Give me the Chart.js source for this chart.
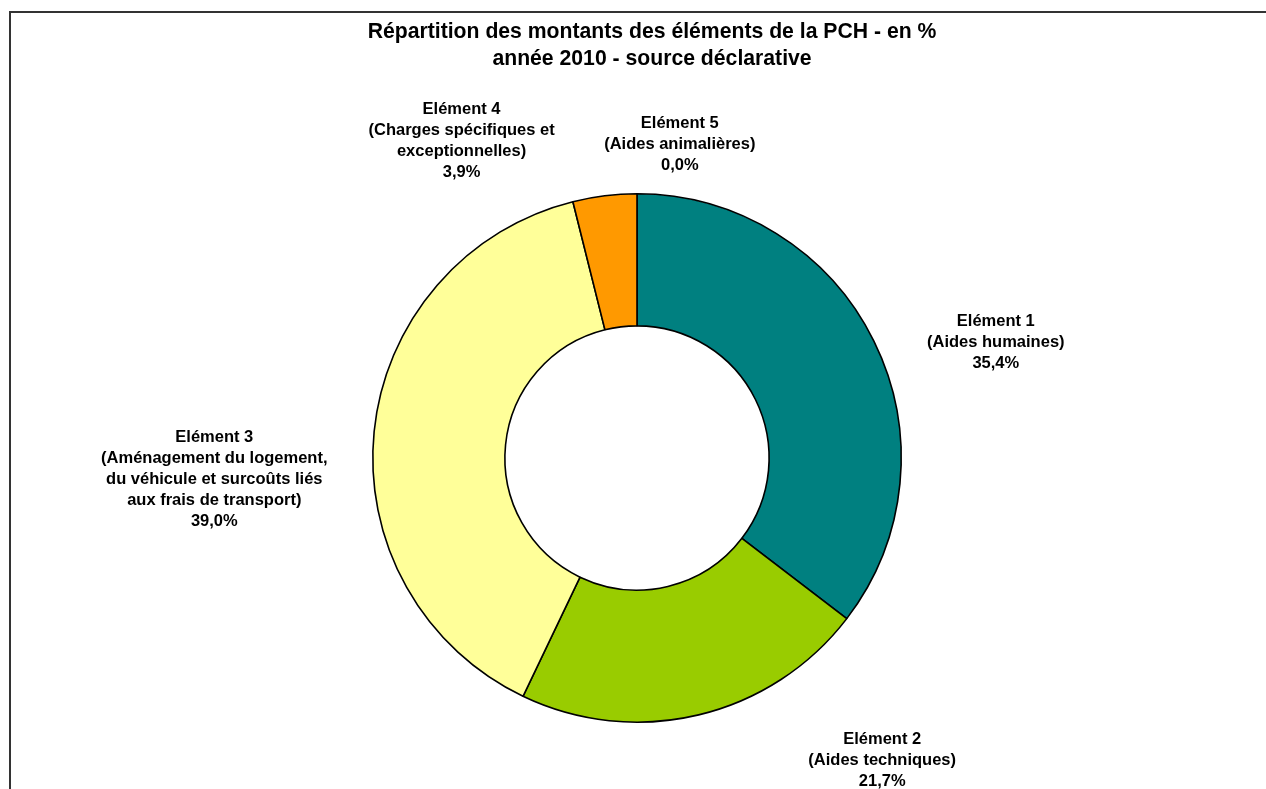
<!DOCTYPE html>
<html>
<head>
<meta charset="utf-8">
<script src="https://cdn.jsdelivr.net/npm/chart.js@4"></script>
<style>
  html,body{margin:0;padding:0;background:#fff;overflow:hidden}
  #wrap{position:relative;width:1266px;height:789px}
  #frame{position:absolute;left:9px;top:11px;width:1300px;height:820px;border-left:2px solid #333;border-top:2px solid #333}
  canvas{position:absolute;left:0;top:0}
</style>
</head>
<body>
<div id="wrap">
  <div id="frame"></div>
  <canvas id="c" width="1266" height="789"></canvas>
</div>
<script>
// data
const categories=['Elément 1','Elément 2','Elément 3','Elément 4','Elément 5'];
const descriptions=[
  ['(Aides humaines)'],
  ['(Aides techniques)'],
  ['(Aménagement du logement,','du véhicule et surcoûts liés','aux frais de transport)'],
  ['(Charges spécifiques et','exceptionnelles)'],
  ['(Aides animalières)']
];
const values=[35.4,21.7,39.0,3.9,0.0];
const titleLines=['Répartition des montants des éléments de la PCH - en %','année 2010 - source déclarative'];

const colors=['#008080','#99CC00','#FFFF99','#FF9900','#993366'];
// label block centres, relative to the doughnut centre, in outer radius units
const labelPos=[[1.358,-0.438],[0.928,1.143],[-1.600,0.083],[-0.664,-1.200],[0.162,-1.185]];

const fmt=v=>v.toFixed(1).replace('.',',')+'%';

const labelsPlugin={
  id:'pchLabels',
  afterDraw(chart){
    const ctx=chart.ctx;
    const arc=chart.getDatasetMeta(0).data[0];
    const cx=arc.x,cy=arc.y,R=arc.outerRadius;
    ctx.save();
    ctx.fillStyle='#000';
    ctx.textAlign='center';
    ctx.textBaseline='middle';
    // title
    ctx.font='bold 21.2px "Liberation Sans", Arial, sans-serif';
    titleLines.forEach((t,i)=>ctx.fillText(t,652,32+i*27));
    // data labels
    ctx.font='bold 16.5px "Liberation Sans", Arial, sans-serif';
    const lh=21;
    categories.forEach((c,i)=>{
      const lines=[c,...descriptions[i],fmt(values[i])];
      const x=cx+labelPos[i][0]*R;
      const y0=cy+labelPos[i][1]*R-(lines.length-1)*lh/2;
      lines.forEach((l,j)=>ctx.fillText(l,x,y0+j*lh));
    });
    ctx.restore();
  }
};

new Chart(document.getElementById('c'),{
  type:'doughnut',
  data:{
    labels:categories,
    datasets:[{
      data:values,
      backgroundColor:colors,
      borderColor:'#000',
      borderWidth:1.6
    }]
  },
  options:{
    responsive:false,
    animation:false,
    cutout:'50%',
    layout:{padding:{left:372,right:364,top:193,bottom:66}},
    plugins:{legend:{display:false},title:{display:false},tooltip:{enabled:false}}
  },
  plugins:[labelsPlugin]
});
</script>
</body>
</html>
